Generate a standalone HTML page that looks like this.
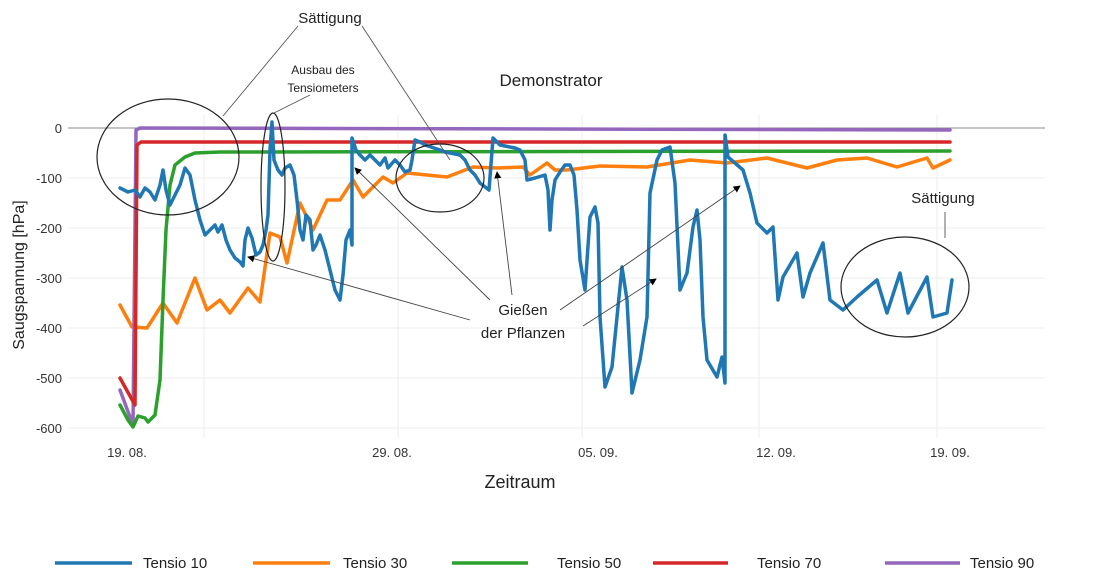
<!DOCTYPE html>
<html><head><meta charset="utf-8"><style>
body{margin:0;background:#fff;}
svg{display:block;font-family:"Liberation Sans",sans-serif;}
</style></head><body>
<svg width="1110" height="585" viewBox="0 0 1110 585" xmlns="http://www.w3.org/2000/svg">
<defs><marker id="ar" markerWidth="8" markerHeight="8" refX="7" refY="4" orient="auto"><path d="M0,0 L8,4 L0,8 z" fill="#000"/></marker></defs>
<g stroke="#eee" stroke-width="1">
<line x1="68" y1="178" x2="1045" y2="178"/><line x1="68" y1="228" x2="1045" y2="228"/><line x1="68" y1="278" x2="1045" y2="278"/><line x1="68" y1="328" x2="1045" y2="328"/><line x1="68" y1="378" x2="1045" y2="378"/><line x1="68" y1="428" x2="1045" y2="428"/>
<line x1="204" y1="115" x2="204" y2="438"/><line x1="398" y1="115" x2="398" y2="438"/><line x1="582" y1="115" x2="582" y2="438"/><line x1="759" y1="115" x2="759" y2="438"/><line x1="937" y1="115" x2="937" y2="438"/>
</g>
<line x1="68" y1="128" x2="1045" y2="128" stroke="#888" stroke-width="1"/>
<g font-size="13" fill="#333" text-anchor="end">
<text x="62" y="133">0</text><text x="62" y="183">-100</text><text x="62" y="233">-200</text><text x="62" y="283">-300</text><text x="62" y="333">-400</text><text x="62" y="383">-500</text><text x="62" y="433">-600</text>
</g>
<g font-size="13" fill="#333" text-anchor="middle">
<text x="127" y="457">19. 08.</text><text x="392" y="457">29. 08.</text><text x="598" y="457">05. 09.</text><text x="776" y="457">12. 09.</text><text x="950" y="457">19. 09.</text>
</g>
<text x="520" y="488" font-size="18" text-anchor="middle" fill="#222">Zeitraum</text>
<text transform="translate(24,275) rotate(-90)" font-size="16" text-anchor="middle" fill="#222">Saugspannung [hPa]</text>
<text x="551" y="86" font-size="17" text-anchor="middle" fill="#222">Demonstrator</text>
<g fill="none" stroke-linejoin="round" stroke-linecap="round">
<polyline stroke="#ff7f0e" stroke-width="3.5" points="120,305 132,327 147,328 163,303 177,323 195,278 207,310 220,300 230,313 248,288 260,302 270,233 280,237 287,263 300,203 313,230 327,200 340,200 353,180 363,197 383,177 393,183 407,173 447,177 473,167 497,168 523,167 530,175 547,163 555,170 567,170 600,166 647,167 690,160 727,163 767,158 807,168 837,160 867,158 897,167 927,158 933,168 950,160"/>
<polyline stroke="#9467bd" stroke-width="3.5" points="120,390 133,425 136,130 140,128 950,130"/>
<polyline stroke="#d62728" stroke-width="3.5" points="120,378 135,405 137,145 141,142 950,142"/>
<polyline stroke="#2ca02c" stroke-width="3.5" points="120,405 128,420 133,427 138,416 145,418 148,422 155,415 160,380 163,300 166,230 170,185 175,165 185,157 195,153 220,152 950,151"/>
<polyline stroke="#1f77b4" stroke-width="3.5" points="120,188 128,192 135,190 140,197 145,188 150,192 155,200 160,185 163,170 166,190 170,205 175,195 180,185 185,168 190,175 195,200 200,220 205,235 210,230 215,225 218,232 222,225 226,240 230,250 235,258 240,262 243,266 245,240 248,228 252,238 256,255 260,252 263,245 266,230 268,215 270,150 272,122 274,160 278,170 282,175 285,168 290,165 294,175 297,200 300,230 303,240 306,215 310,220 313,250 316,245 320,235 325,250 330,270 335,290 340,300 343,275 346,240 350,230 352,245 352,138 356,150 360,155 365,160 370,155 380,165 385,158 388,168 395,160 400,165 405,172 410,170 412,160 415,140 420,142 425,145 440,150 445,152 460,155 465,160 470,170 475,175 480,183 489,190 493,138 500,145 515,148 520,150 525,160 527,180 535,178 545,175 548,190 550,230 552,200 555,180 560,172 565,165 570,165 574,175 577,210 580,260 585,290 590,217 595,207 598,223 600,317 605,387 612,367 622,267 627,300 632,393 640,360 647,317 650,193 657,160 662,150 670,147 675,183 680,290 687,273 693,227 697,210 700,240 703,317 707,360 717,377 722,357 725,383 725,135 728,157 743,170 750,193 757,223 767,233 773,227 778,300 783,277 797,253 803,297 810,273 823,243 830,300 843,310 857,297 877,280 887,313 900,273 908,313 927,277 933,317 947,313 952,280"/>
</g>
<g fill="none" stroke="#222" stroke-width="1.2">
<ellipse cx="168" cy="157" rx="71" ry="58"/>
<ellipse cx="273" cy="187" rx="12" ry="74"/>
<ellipse cx="440" cy="178" rx="44" ry="34"/>
<ellipse cx="905" cy="287" rx="64" ry="50"/>
</g>
<g stroke="#555" stroke-width="0.9" fill="none">
<line x1="298" y1="26" x2="223" y2="116"/>
<line x1="362" y1="26" x2="450" y2="160"/>
<line x1="310" y1="95" x2="274" y2="113"/>
<line x1="945" y1="212" x2="945" y2="238"/>
</g>
<g stroke="#444" stroke-width="0.9" marker-end="url(#ar)">
<line x1="470" y1="320" x2="248" y2="257"/>
<line x1="490" y1="300" x2="355" y2="168"/>
<line x1="512" y1="295" x2="497" y2="172"/>
<line x1="560" y1="310" x2="740" y2="186"/>
<line x1="583" y1="326" x2="656" y2="279"/>
</g>
<g fill="#222" text-anchor="middle">
<text x="330" y="23" font-size="15">Sättigung</text>
<text x="323" y="74" font-size="12">Ausbau des</text>
<text x="323" y="92" font-size="12">Tensiometers</text>
<text x="943" y="203" font-size="15">Sättigung</text>
<text x="523" y="315" font-size="15">Gießen</text>
<text x="523" y="338" font-size="15">der Pflanzen</text>
</g>
<g stroke-width="3.5">
<line x1="55" y1="563" x2="132" y2="563" stroke="#1f77b4"/>
<line x1="253" y1="563" x2="330" y2="563" stroke="#ff7f0e"/>
<line x1="452" y1="563" x2="528" y2="563" stroke="#2ca02c"/>
<line x1="653" y1="563" x2="728" y2="563" stroke="#d62728"/>
<line x1="885" y1="563" x2="960" y2="563" stroke="#9467bd"/>
</g>
<g font-size="15" fill="#222">
<text x="143" y="568">Tensio 10</text>
<text x="343" y="568">Tensio 30</text>
<text x="557" y="568">Tensio 50</text>
<text x="757" y="568">Tensio 70</text>
<text x="970" y="568">Tensio 90</text>
</g>
</svg>
</body></html>
